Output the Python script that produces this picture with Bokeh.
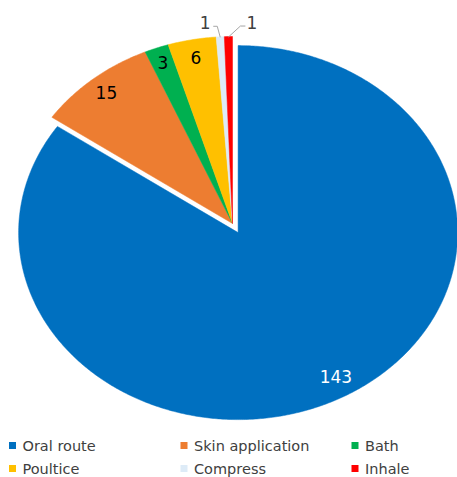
import math
from bokeh.plotting import figure
from bokeh.models import Range1d, ColumnDataSource
from bokeh.core.properties import value
from bokeh.embed import file_html
from bokeh.resources import INLINE

# ---- data ----
categories = ["Oral route", "Skin application", "Bath", "Poultice", "Compress", "Inhale"]
counts = [143, 15, 3, 6, 1, 1]
colors = ["#0070C0", "#ED7D31", "#00B050", "#FFC000", "#DDEBF7", "#FF0000"]

# ---- layout ----
W, H = 457, 477
CX, CY = 232.0, 223.0      # pie centre (screen coords, y down)
RX, RY = 219.5, 187.0      # ellipse radii
EXPLODE = 0.055            # explode fraction for first slice

p = figure(width=W, height=H, output_backend="svg", toolbar_location=None,
           x_range=Range1d(0, W), y_range=Range1d(H, 0), min_border=0,
           outline_line_color=None, background_fill_color="white",
           border_fill_color="white")
p.axis.visible = False
p.grid.visible = False

total = sum(counts)
xs, ys, mids, centres = [], [], [], []
cum = 0.0
for i, v in enumerate(counts):
    a0 = cum / total * 2 * math.pi
    a1 = (cum + v) / total * 2 * math.pi
    am = (a0 + a1) / 2
    cum += v
    # angles measured clockwise from 12 o'clock
    if i == 0:
        cx = CX + EXPLODE * RX * math.sin(am)
        cy = CY - EXPLODE * RY * math.cos(am)
    else:
        cx, cy = CX, CY
    n = max(4, int((a1 - a0) / (2 * math.pi) * 720))
    px, py = [cx], [cy]
    for k in range(n + 1):
        a = a0 + (a1 - a0) * k / n
        px.append(cx + RX * math.sin(a))
        py.append(cy - RY * math.cos(a))
    xs.append(px)
    ys.append(py)
    mids.append(am)
    centres.append((cx, cy))

src = ColumnDataSource(dict(xs=xs, ys=ys, color=colors))
p.patches("xs", "ys", source=src, fill_color="color", line_color="color", line_width=0.5)

# ---- data labels ----
lab_frac = [0.9, 0.905, 0.915, 0.905]
inside_x, inside_y, inside_t, inside_c = [], [], [], []
for i in range(4):
    cx, cy = centres[i]
    am = mids[i]
    f = lab_frac[i]
    lx = cx + f * RX * math.sin(am)
    ly = cy - f * RY * math.cos(am)
    if i == 0:
        lx += 6
        ly -= 5
    inside_x.append(lx)
    inside_y.append(ly)
    inside_t.append(str(counts[i]))
    inside_c.append("white" if i == 0 else "#000000")
p.text(x=inside_x, y=inside_y, text=inside_t, text_color=inside_c,
       text_font=value("DejaVu Sans"), text_font_size="17px",
       text_align="center", text_baseline="middle")

# outside labels with leader lines (small slices)
out_x, out_y, out_t = [], [], []
for i in [4, 5]:
    am = mids[i]
    ox = CX + RX * math.sin(am)
    oy = CY - RY * math.cos(am) + 0.5
    elbow_x = ox + (-3 if i == 4 else 12)
    elbow_y = oy - 11
    end_x = elbow_x + (-4 if i == 4 else 5)
    p.line([ox, elbow_x, end_x], [oy, elbow_y, elbow_y], line_color="#A6A6A6", line_width=1)
    out_x.append(end_x + (-8 if i == 4 else 1))
    out_y.append(elbow_y - 4)
    out_t.append(str(counts[i]))
p.text(x=[out_x[0]], y=[out_y[0]], text=[out_t[0]], text_color="#404040",
       text_font=value("DejaVu Sans"), text_font_size="17px",
       text_align="center", text_baseline="middle")
p.text(x=[out_x[1]], y=[out_y[1]], text=[out_t[1]], text_color="#404040",
       text_font=value("DejaVu Sans"), text_font_size="17px",
       text_align="left", text_baseline="middle")

# ---- legend ----
col_x = [12, 183.5, 354.5]
row_y = [445, 468]
lx_, ly_, lt_ = [], [], []
for i, c in enumerate(categories):
    lx_.append(col_x[i % 3])
    ly_.append(row_y[i // 3])
    lt_.append(c)
p.scatter(x=lx_, y=ly_, marker="square", size=7, fill_color=colors, line_color=None)
p.text(x=[x + 10 for x in lx_], y=ly_, text=lt_, text_color="#404040",
       text_font=value("DejaVu Sans"), text_font_size="14.5px",
       text_align="left", text_baseline="middle")

open("out.html", "w").write(file_html(p, INLINE))
